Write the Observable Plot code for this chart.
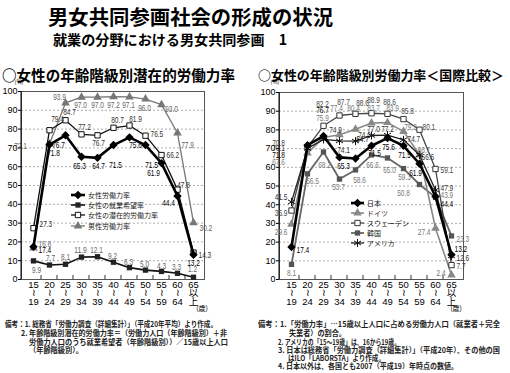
<!DOCTYPE html>
<html><head><meta charset="utf-8">
<script src="https://cdn.jsdelivr.net/npm/d3@7"></script>
<script src="https://cdn.jsdelivr.net/npm/@observablehq/plot@0.6"></script>
<style>
body{margin:0;background:#fff;}
#root{position:relative;width:510px;height:373px;overflow:hidden;background:#fff;}
#root svg{position:absolute;}
</style></head><body><div id="root"></div>
<script>
// ---------- data ----------
const ageGroups = ["15-19","20-24","25-29","30-34","35-39","40-44","45-49","50-54","55-59","60-64","65+"];
const ageTickLabels = ["15\n≀\n19","20\n≀\n24","25\n≀\n29","30\n≀\n34","35\n≀\n39","40\n≀\n44","45\n≀\n49","50\n≀\n54","55\n≀\n59","60\n≀\n64","65\n以\n上"];
const yTicks = [0,10,20,30,40,50,60,70,80,90,100];

// left chart: 女性の年齢階級別潜在的労働力率
const femaleLabor     = [17.4,71.8,76.7,65.3,64.7,71.5,75.6,71.5,61.9,44.4,13.2];
const femaleDesire    = [9.9,7.7,8.1,11.9,12.1,9.2,6.3,5.0,4.3,3.3,1.2];
const femalePotential = [27.3,79.4,84.7,77.2,76.7,80.7,81.9,76.5,66.2,47.8,14.3];
const maleLabor       = [16.8,72.1,93.9,97.0,97.0,97.2,97.1,96.0,93.0,77.9,30.2];

// right chart: 女性の年齢階級別労働力率（国際比較）
const japan   = [17.4,71.8,76.7,65.3,64.7,71.5,75.6,71.5,61.9,44.4,13.2];
const germany = [29.6,67.6,75.9,77.4,80.4,83.7,83.9,79.2,66.7,27.4,2.4];
const sweden  = [36.9,70.8,82.2,87.7,88.6,88.9,88.6,85.8,80.1,59.1,7.7];
const korea   = [8.1,56.5,68.2,53.7,58.6,66.6,65.0,59.3,50.8,43.9,23.3];
const usa     = [41.5,70.1,74.9,74.1,74.0,77.0,77.2,74.7,66.6,47.9,12.6];

// ---------- label placement (dx, dy, anchor) ----------
const posFemaleLabor = [[5,3,"start"],[4,9],[-7,10],[-2,9],[1,8],[2,20],[6,8],[6,20],[-8,10],[-9,7],[0,8]];
const posFemaleDesire = [[3,9],[1,-7],[0,-7],[-1,-7],[-1,-7],[-1,-6],[-1,-6],[-1,-6],[0,-5],[-1,-6],[-1,-8]];
const posFemalePotential = [[6,-4,"start"],[8,-11],[4,-8],[3,-7],[1,8],[4,-8],[6,-6],[5,-2,"start"],[5,0,"start"],[6,-5],[5,2,"start"]];
const posMaleLabor = [[5,-4,"start"],[-29,2],[-6,-6],[-1,8],[0,8],[0,8],[-1,8],[-1,9],[10,4],[10,12],[6,5,"start"]];

const posJapan = [[5,3,"start"],[-29,10],[-1,-26],[4,9],[7,-19],[3,7],[1,9],[1,9],[-4,9],[5,8,"start"],[3,-6,"start"]];
const posSweden = [[-4,3,"end"],[-29,-4],[-1,-22],[4,-13],[7,-11],[2,-13],[2,-12],[4,-8],[3,-3,"start"],[5,1,"start"],[5,1,"start"]];
const posGermany = [[-4,8,"end"],[-29,9],[-1,-19],[-3,-27],[-2,-21],[2,-15],[5,-14],[7,-4],[-2,-5,"start"],[-5,4,"end"],[-6,-2,"end"]];
const posKorea = [[0,9],[5,7],[1,13],[-1,8],[4,10],[1,10],[2,12],[1,9],[-16,9],[5,-2,"start"],[5,3,"start"]];
const posUsa = [[-4,-5,"end"],[-29,0],[12,-9],[4,9],[9,-6],[2,-6],[0,-6],[4,-1,"start"],[2,2,"start"],[5,-2,"start"],[5,2,"start"]];

// ---------- series styles ----------
const leftSeries = [
  {name:"男性労働力率", values:maleLabor, stroke:"#777", width:1.3, symbol:"triangle", r:3.2, fill:"#777", dotStroke:"none", label:"#666", pos:posMaleLabor},
  {name:"女性の潜在的労働力率", values:femalePotential, stroke:"#111", width:1.3, symbol:"square", r:3, fill:"#fff", dotStroke:"#111", label:"#333", pos:posFemalePotential},
  {name:"女性の就業希望率", values:femaleDesire, stroke:"#111", width:1.6, symbol:"square", r:3, fill:"#222", dotStroke:"none", label:"#666", pos:posFemaleDesire},
  {name:"女性労働力率", values:femaleLabor, stroke:"#000", width:2.6, symbol:"diamond2", r:3.8, fill:"#000", dotStroke:"none", label:"#000", pos:posFemaleLabor}
];
const leftLegendOrder = [3,2,1,0];

const rightSeries = [
  {name:"韓国", values:korea, stroke:"#666", width:1.8, symbol:"square", r:3, fill:"#555", dotStroke:"none", label:"#777", pos:posKorea},
  {name:"ドイツ", values:germany, stroke:"#888", width:1.6, symbol:"triangle", r:3.2, fill:"#888", dotStroke:"none", label:"#777", pos:posGermany},
  {name:"スウェーデン", values:sweden, stroke:"#444", width:1.3, symbol:"square", r:3, fill:"#fff", dotStroke:"#333", label:"#444", pos:posSweden},
  {name:"アメリカ", values:usa, stroke:"#222", width:1.3, symbol:"asterisk", r:3.8, fill:"none", dotStroke:"#111", label:"#333", pos:posUsa},
  {name:"日本", values:japan, stroke:"#000", width:2.6, symbol:"diamond2", r:3.8, fill:"#000", dotStroke:"none", label:"#000", pos:posJapan}
];
const rightLegendOrder = [4,1,2,0,3];

const numFont = '"Liberation Sans",Arial,"Noto Sans CJK JP",sans-serif';
const jpFont = '"Noto Sans CJK JP",sans-serif';

function rows(values){ return ageGroups.map((age,i)=>({age, value:values[i]})); }

function seriesMarks(s){
  const r = rows(s.values);
  return [
    Plot.line(r, {x:"age", y:"value", stroke:s.stroke, strokeWidth:s.width}),
    Plot.dot(r, {x:"age", y:"value", symbol:s.symbol, r:s.r, fill:s.fill, stroke:s.dotStroke, strokeWidth:1})
  ];
}
function labelMarks(s){
  return s.values.map((v,i)=>{
    const p = s.pos[i];
    return Plot.text([{age:ageGroups[i], value:v}], {x:"age", y:"value", text:d=>d.value.toFixed(1),
      dx:p[0], dy:p[1], textAnchor:p[2]||"middle", fill:s.label, fontSize:9});
  });
}
function frameAxis(index, scales, values, dims){
  const x = scales.x, y = scales.y;
  const step = x(ageGroups[1]) - x(ageGroups[0]);
  const g = d3.create("svg:g");
  const y0 = y(0);
  ageGroups.slice(1).forEach(a=>{
    const bx = x(a) - step/2;
    g.append("line").attr("x1",bx).attr("x2",bx).attr("y1",y0).attr("y2",y0-4).attr("stroke","#333");
  });
  g.append("line").attr("x1",dims.marginLeft).attr("x2",dims.marginLeft).attr("y1",y(0)).attr("y2",y(100)).attr("stroke","#000");
  return g.node();
}

function chart(series, opts){
  const svg = Plot.plot({
    width:opts.width, height:235,
    marginLeft:opts.ml, marginRight:opts.mr, marginTop:opts.mt, marginBottom:235-opts.mt-opts.ph,
    style:{fontFamily:numFont, background:"transparent", overflow:"visible", color:"#000"},
    x:{type:"point", domain:ageGroups, padding:0.5, label:null},
    y:{domain:[0,100], label:null},
    marks:[
      Plot.ruleY(yTicks.filter(t=>t>0&&t<100), {stroke:"#999", strokeDasharray:"2,2", strokeWidth:0.8}),
      Plot.frame({stroke:"#555"}),
      frameAxis,
      Plot.axisY(yTicks, {tickSize:3, tickPadding:1, fontSize:9, fill:"#000", label:null}),
      Plot.axisX(ageGroups, {tickSize:0, tickPadding:2, fontSize:9.5, lineHeight:0.92, fill:"#000", label:null,
        tickFormat:d=>ageTickLabels[ageGroups.indexOf(d)]}),
      ...series.flatMap(seriesMarks),
      ...series.flatMap(labelMarks)
    ]
  });
  // condense the value labels (narrow digits as in the original)
  d3.select(svg).selectAll("text").each(function(){
    const s = this.textContent;
    if (/^\d+\.\d$/.test(s)) {
      const digits = s.length - 1;
      d3.select(this).attr("textLength", digits*3.7 + 1.6).attr("lengthAdjust","spacingAndGlyphs");
    }
  });
  return svg;
}

const root = document.getElementById("root");
const left = chart(leftSeries, {width:250, ml:21, mr:46, mt:11, ph:188});
left.style.left="0px"; left.style.top="80px";
root.appendChild(left);
const right = chart(rightSeries, {width:255, ml:24, mr:47, mt:12, ph:187});
right.style.left="255px"; right.style.top="80px";
root.appendChild(right);

// ---------- overlay texts ----------
const ov = d3.select(root).append("svg").attr("width",510).attr("height",373).style("left","0px").style("top","0px");
function txt(x,y,s,o={}){
  const t = ov.append("text").attr("x",x).attr("y",y).attr("dominant-baseline","central")
    .attr("font-family",o.font||jpFont).attr("font-size",o.size||8).attr("font-weight",o.weight||"normal")
    .attr("fill",o.fill||"#000").attr("text-anchor",o.anchor||"start").text(s);
  if(o.len){ t.attr("textLength",o.len).attr("lengthAdjust","spacingAndGlyphs"); }
  return t;
}
txt(48,16.5,"男女共同参画社会の形成の状況",{size:20,weight:"bold",len:285});
txt(53,38.5,"就業の分野における男女共同参画　1",{size:14,weight:"bold",len:234});
txt(2,74,"○女性の年齢階級別潜在的労働力率",{size:15,weight:"bold",len:233});
txt(258,74,"○女性の年齢階級別労働力率＜国際比較＞",{size:13,weight:"bold",len:246});
txt(19,81.5,"(%)",{size:5.5,anchor:"middle"});
txt(275,81.5,"(%)",{size:5.5,anchor:"middle"});
txt(202,308,"(歳)",{size:7,anchor:"middle"});
txt(456,308,"(歳)",{size:7,anchor:"middle"});

const noteOpt = {size:7.5, weight:"bold", fill:"#222"};
txt(5,323,"備考：1. 総務省「労働力調査（詳細集計）」（平成20年平均）より作成。",{...noteOpt,len:212});
txt(21,332,"2. 年齢階級別潜在的労働力率＝（労働力人口（年齢階級別）＋非",{...noteOpt,len:206});
txt(29,341,"労働力人口のうち就業希望者（年齢階級別））／15歳以上人口",{...noteOpt,len:199});
txt(29,349,"（年齢階級別）。",{...noteOpt,len:54});
txt(258,323,"備考：1.「労働力率」…15歳以上人口に占める労働力人口（就業者＋完全",{...noteOpt,len:242});
txt(289,332,"失業者）の割合。",{...noteOpt,len:57});
txt(278,341,"2. アメリカの「15〜19歳」は、16から19歳。",{...noteOpt,len:122});
txt(278,349,"3. 日本は総務省「労働力調査（詳細集計）」（平成20年）、その他の国",{...noteOpt,len:222});
txt(288,357,"はILO「LABORSTA」より作成。",{...noteOpt,len:97});
txt(278,365,"4. 日本以外は、各国とも2007（平成19）年時点の数値。",{...noteOpt,len:180});

// ---------- legends ----------
const symMap = {triangle:d3.symbolTriangle, square:d3.symbolSquare, diamond2:d3.symbolDiamond2, asterisk:d3.symbolAsterisk};
function legend(series, order, x0, x1, xText, ys){
  order.forEach((k,j)=>{
    const s = series[k], y = ys[j];
    ov.append("line").attr("x1",x0).attr("x2",x1).attr("y1",y).attr("y2",y).attr("stroke",s.stroke).attr("stroke-width",s.width);
    ov.append("path").attr("d",d3.symbol(symMap[s.symbol], Math.PI*s.r*s.r)())
      .attr("transform",`translate(${(x0+x1)/2},${y})`).attr("fill",s.fill).attr("stroke",s.dotStroke);
    txt(xText,y,s.name,{size:7,fill:"#222"});
  });
}
legend(leftSeries, leftLegendOrder, 71, 85, 88, [195,205,215,226]);
legend(rightSeries, rightLegendOrder, 351, 364, 367, [203,213,223,233,243]);
</script></body></html>
